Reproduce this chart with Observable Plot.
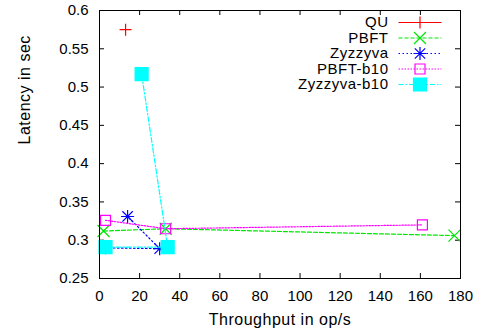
<!DOCTYPE html>
<html>
<head>
<meta charset="utf-8">
<script src="https://cdn.jsdelivr.net/npm/d3@7"></script>
<script src="https://cdn.jsdelivr.net/npm/@observablehq/plot@0.6"></script>
<style>
  html, body { margin: 0; padding: 0; background: #fff; }
  #chart { width: 483px; height: 333px; }
  g[aria-label="text"] text { letter-spacing: 0.5px; }
</style>
</head>
<body>
<div id="chart"></div>
<script>
// ---- data ----
const seriesNames = ["QU", "PBFT", "Zyzzyva", "PBFT-b10", "Zyzzyva-b10"];
const quX = [13];
const quY = [0.575];
const pbftX = [2, 33, 177];
const pbftY = [0.312, 0.315, 0.306];
const zyzzyvaX = [3, 30, 14];
const zyzzyvaY = [0.29, 0.289, 0.331];
const pbftB10X = [3, 33, 161];
const pbftB10Y = [0.326, 0.315, 0.32];
const zyzzyvaB10X = [3, 34, 21];
const zyzzyvaB10Y = [0.291, 0.291, 0.517];
const xTicks = [0, 20, 40, 60, 80, 100, 120, 140, 160, 180];
const yTicks = [0.25, 0.3, 0.35, 0.4, 0.45, 0.5, 0.55, 0.6];
const yTickLabels = ["0.25", "0.3", "0.35", "0.4", "0.45", "0.5", "0.55", "0.6"];
const xLabel = "Throughput in op/s";
const yLabel = "Latency in sec";

// ---- symbols ----
const rad = (size) => Math.sqrt(size / Math.PI);
const plusSym = {draw(c, s) { const r = rad(s); c.moveTo(-r, 0); c.lineTo(r, 0); c.moveTo(0, -r); c.lineTo(0, r); }};
const timesSym = {draw(c, s) { const r = rad(s); c.moveTo(-r, -r); c.lineTo(r, r); c.moveTo(-r, r); c.lineTo(r, -r); }};
const starSym = {draw(c, s) { const r = rad(s); const q = r * 0.8;
  c.moveTo(-r, 0); c.lineTo(r, 0); c.moveTo(0, -r); c.lineTo(0, r);
  c.moveTo(-q, -q); c.lineTo(q, q); c.moveTo(-q, q); c.lineTo(q, -q); }};
const squareSym = {draw(c, s) { const r = rad(s); c.rect(-r, -r, 2 * r, 2 * r); }};
const hlineSym = {draw(c, s) { const r = rad(s); c.moveTo(-r, 0); c.lineTo(r, 0); }};

const styles = [
  {name: seriesNames[0], xs: quX, ys: quY, color: "#ff0000", dash: null, sym: plusSym, r: 6, filled: false},
  {name: seriesNames[1], xs: pbftX, ys: pbftY, color: "#00e600", dash: "4,2", sym: timesSym, r: 6, filled: false},
  {name: seriesNames[2], xs: zyzzyvaX, ys: zyzzyvaY, color: "#0000ff", dash: "1.5,2.5", sym: starSym, r: 6.5, filled: false},
  {name: seriesNames[3], xs: pbftB10X, ys: pbftB10Y, color: "#ff00ff", dash: "1.5,1.5", sym: squareSym, r: 5, filled: false},
  {name: seriesNames[4], xs: zyzzyvaB10X, ys: zyzzyvaB10Y, color: "#00ffff", dash: "5,2,1.5,2", sym: squareSym, r: 6.5, filled: true}
];

const marks = [];
// inner ticks (mirror on all sides)
marks.push(Plot.tickX(xTicks, {x: d => d, insetTop: 263, stroke: "black"}));
marks.push(Plot.tickX(xTicks, {x: d => d, insetBottom: 263, stroke: "black"}));
marks.push(Plot.tickY(yTicks, {y: d => d, insetRight: 356, stroke: "black"}));
marks.push(Plot.tickY(yTicks, {y: d => d, insetLeft: 356, stroke: "black"}));

// series
styles.forEach(s => {
  const data = s.xs.map((x, i) => ({x, y: s.ys[i]}));
  if (data.length > 1) {
    marks.push(Plot.line(data, {x: "x", y: "y", stroke: s.color, strokeWidth: 1.2,
      strokeDasharray: s.dash || undefined}));
  }
  marks.push(Plot.dot(data, {x: "x", y: "y", symbol: s.sym, r: s.r,
    fill: s.filled ? s.color : "none", stroke: s.color, strokeWidth: 1.2}));
});

// legend (inside, top-right)
styles.forEach((s, i) => {
  const dy = 12 + i * 15.5;
  marks.push(Plot.text([s.name], {text: d => d, frameAnchor: "top-right", dx: -72, dy,
    textAnchor: "end", lineAnchor: "middle", fontSize: 15, fill: "black"}));
  marks.push(Plot.dot([0], {frameAnchor: "top-right", dx: -40.5, dy, symbol: hlineSym, r: 21.5,
    fill: "none", stroke: s.color, strokeWidth: 1.2, strokeDasharray: s.dash || undefined}));
  marks.push(Plot.dot([0], {frameAnchor: "top-right", dx: -40.5, dy, symbol: s.sym, r: s.r,
    fill: s.filled ? s.color : "none", stroke: s.color, strokeWidth: 1.2}));
});

// axes
marks.push(Plot.axisX({ticks: xTicks, tickSize: 0, tickPadding: 12, label: null, fontSize: 15}));
marks.push(Plot.axisY({ticks: yTicks, tickSize: 0, tickPadding: 11, label: null, fontSize: 15,
  tickFormat: d => yTickLabels[yTicks.indexOf(d)]}));
marks.push(Plot.text([xLabel], {text: d => d, frameAnchor: "bottom", dy: 41, lineAnchor: "middle", fontSize: 16}));
marks.push(Plot.text([yLabel], {text: d => d, frameAnchor: "left", dx: -75, rotate: -90, lineAnchor: "middle", fontSize: 16}));
marks.push(Plot.frame({stroke: "black", strokeWidth: 1}));

const chart = Plot.plot({
  width: 483,
  height: 333,
  marginLeft: 99,
  marginRight: 23,
  marginTop: 10,
  marginBottom: 55,
  x: {domain: [0, 180]},
  y: {domain: [0.25, 0.6]},
  style: {fontFamily: "'Liberation Sans', Arial, sans-serif", fontSize: "15px", background: "white", color: "black"},
  marks
});
document.getElementById("chart").appendChild(chart);
</script>
</body>
</html>
